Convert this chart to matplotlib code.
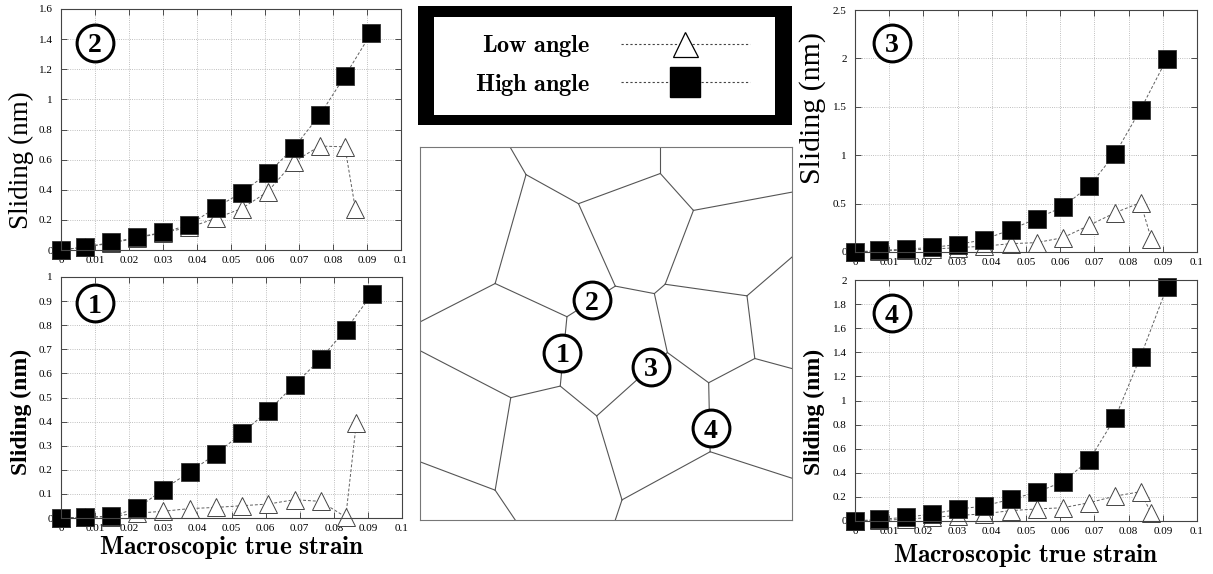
import matplotlib
matplotlib.use('Agg')
import matplotlib.pyplot as plt
from matplotlib.lines import Line2D
from matplotlib.patches import Rectangle
from matplotlib.ticker import MultipleLocator, FormatStrFormatter

plt.rcParams['font.family'] = 'Liberation Serif'
plt.rcParams['mathtext.fontset'] = 'cm'

# macroscopic true strain at each output step
strain = [0, 0.0071, 0.0148, 0.0224, 0.0300, 0.0377, 0.0455,
          0.0531, 0.0608, 0.0685, 0.0761, 0.0835, 0.0912]
strain_low = [0, 0.0071, 0.0148, 0.0224, 0.0300, 0.0377, 0.0455,
              0.0531, 0.0608, 0.0685, 0.0761, 0.0835, 0.0866]

# boundary sliding (nm), high angle / low angle, boundaries 1-4
high_1 = [0, 0.004, 0.007, 0.041, 0.118, 0.191, 0.266, 0.353, 0.445, 0.553, 0.660, 0.781, 0.929]
low_1 = [0, 0.003, 0.006, 0.020, 0.028, 0.039, 0.044, 0.051, 0.058, 0.076, 0.069, 0.004, 0.394]
high_2 = [0, 0.020, 0.050, 0.085, 0.117, 0.166, 0.281, 0.380, 0.509, 0.679, 0.896, 1.155, 1.438]
low_2 = [0, 0.020, 0.045, 0.080, 0.115, 0.150, 0.210, 0.275, 0.387, 0.586, 0.690, 0.685, 0.270]
high_3 = [0, 0.017, 0.028, 0.048, 0.076, 0.128, 0.231, 0.345, 0.466, 0.683, 1.017, 1.472, 1.997]
low_3 = [0, 0.010, 0.020, 0.030, 0.045, 0.060, 0.086, 0.097, 0.148, 0.276, 0.407, 0.510, 0.138]
high_4 = [0, 0.014, 0.030, 0.058, 0.097, 0.125, 0.180, 0.238, 0.326, 0.506, 0.858, 1.364, 1.940]
low_4 = [0, 0.005, 0.015, 0.030, 0.045, 0.060, 0.086, 0.100, 0.110, 0.152, 0.207, 0.243, 0.064]

# grain boundary network: triple junctions and edge points (0-100 box)
nodes = {
    'A': (24.2, 100), 'B': (28.5, 92.6), 'C': (42.6, 84.8), 'D': (64.6, 92.9),
    'E': (64.6, 100), 'F': (73.5, 83.0), 'G': (100, 87.9), 'H': (20.2, 63.4),
    'I': (52.5, 62.7), 'J': (65.9, 63.2), 'K': (63.0, 60.7), 'L': (87.9, 60.1),
    'M': (100, 70.5), 'N': (90.0, 43.3), 'O': (100, 40.6), 'P': (77.6, 36.8),
    'Q': (66.5, 44.9), 'R': (78.0, 18.3), 'S': (100, 11.2), 'T': (54.3, 5.4),
    'U': (52.5, 0), 'V': (47.5, 27.9), 'W': (37.7, 35.9), 'X': (24.4, 32.8),
    'Y': (39.5, 54.5), 'Z': (0, 53.1), 'AA': (0, 45.4), 'AB': (20.2, 8.0),
    'AC': (0, 15.6), 'AD': (25.6, 0),
}
boundaries = [('A', 'B'), ('B', 'C'), ('B', 'H'), ('C', 'D'), ('D', 'E'), ('D', 'F'),
              ('F', 'G'), ('C', 'I'), ('F', 'J'), ('I', 'K'), ('J', 'K'), ('J', 'L'),
              ('L', 'M'), ('L', 'N'), ('N', 'O'), ('N', 'P'), ('K', 'Q'), ('Q', 'P'),
              ('Q', 'V'), ('P', 'R'), ('R', 'S'), ('R', 'T'), ('T', 'U'), ('T', 'V'),
              ('V', 'W'), ('W', 'X'), ('W', 'Y'), ('Y', 'I'), ('Y', 'H'), ('H', 'Z'),
              ('AA', 'X'), ('X', 'AB'), ('AB', 'AC'), ('AB', 'AD')]
# points on the boundaries where sliding is tracked
tracked = {'1': (38.3, 44.9), '2': (46.2, 58.9), '3': (62.1, 41.1), '4': (78.2, 24.6)}

W, H = 1213, 574
fig = plt.figure(figsize=(W / 100, H / 100), dpi=100)


def px_axes(l, t, r, b):
    return fig.add_axes([l / W, 1 - b / H, (r - l) / W, (b - t) / H])


def circled(ax, x, y, s, transform):
    ax.plot([x], [y], 'o', ms=26.5, mfc='white', mec='black', mew=2.2,
            transform=transform, clip_on=False, zorder=5)
    ax.text(x, y, s, fontsize=20, fontweight='bold', ha='center', va='center_baseline',
            transform=transform, zorder=6)


line_kw = dict(color='#606060', lw=0.7, ls=(0, (3, 2)), clip_on=False)

panels = [
    ('1', (61, 277, 402, 518), high_1, low_1, 1.0, 0.1, 17, 'bold', (-0.117, 0.44)),
    ('2', (61, 9, 401, 250), high_2, low_2, 1.6, 0.2, 19.5, 'normal', (-0.115, 0.373)),
    ('3', (855, 10, 1197, 252), high_3, low_3, 2.5, 0.5, 21.5, 'normal', (-0.123, 0.595)),
    ('4', (855, 280, 1197, 521), high_4, low_4, 2.0, 0.2, 17, 'bold', (-0.12, 0.452)),
]

for name, box, high, low, ymax, ystep, ysize, yweight, ypos in panels:
    ax = px_axes(*box)
    ax.plot(strain_low, low, marker='^', ms=12.5, mfc='white', mec='#444444',
            mew=0.7, **line_kw)
    ax.plot(strain, high, marker='s', ms=13, mfc='black', mec='#333333',
            mew=0.6, **line_kw)
    ax.set_xlim(0, 0.1)
    ax.set_ylim(0, ymax)
    ax.xaxis.set_major_locator(MultipleLocator(0.01))
    ax.yaxis.set_major_locator(MultipleLocator(ystep))
    ax.xaxis.set_major_formatter(FormatStrFormatter('%g'))
    ax.yaxis.set_major_formatter(FormatStrFormatter('%g'))
    ax.tick_params(direction='in', length=4, width=0.6, color='#333333',
                   labelsize=8, top=True, right=True)
    ax.tick_params(axis='x', pad=4)
    ax.tick_params(axis='y', pad=6)
    ax.grid(True, ls=':', color='#aaaaaa', lw=0.6)
    for sp in ax.spines.values():
        sp.set_color('#444444')
        sp.set_linewidth(0.8)
    ax.set_ylabel('Sliding (nm)', fontsize=ysize, fontweight=yweight, va='center')
    ax.yaxis.set_label_coords(*ypos)
    if name in ('1', '4'):
        ax.set_xlabel(r'$\mathbf{Macroscopic\ true\ strain}$', fontsize=18.3, va='center')
        ax.xaxis.set_label_coords(0.5, -0.124 if name == '1' else -0.145)
    cx = 0.1 if name in ('1', '2') else 0.108
    cy = {'1': 0.892, '2': 0.859, '3': 0.864, '4': 0.863}[name]
    circled(ax, cx, cy, name, ax.transAxes)

# legend box with heavy black frame
ax_leg = px_axes(418, 6, 792, 125)
ax_leg.set_facecolor('black')
ax_leg.set_xticks([])
ax_leg.set_yticks([])
for sp in ax_leg.spines.values():
    sp.set_visible(False)
ax_leg.add_patch(Rectangle((0.043, 0.084), 0.912, 0.824, transform=ax_leg.transAxes,
                           facecolor='white', edgecolor='none'))
handles = [
    Line2D([], [], color='#444444', lw=0.8, ls=(0, (2, 2)), marker='^', ms=18,
           mfc='white', mec='black', mew=0.9),
    Line2D([], [], color='#444444', lw=0.8, ls=(0, (2, 2)), marker='s', ms=21,
           mfc='black', mec='black'),
]
ax_leg.legend(handles, [r'$\mathbf{Low\ angle}$', r'$\mathbf{High\ angle}$'],
              loc='center', bbox_to_anchor=(0.52, 0.5), frameon=False,
              markerfirst=False, fontsize=17.5, handlelength=5.3, handletextpad=1.25,
              labelspacing=0.5, numpoints=1)

# grain structure with the tracked boundaries
ax_g = px_axes(420, 147, 792, 520)
for a, b in boundaries:
    (x0, y0), (x1, y1) = nodes[a], nodes[b]
    ax_g.plot([x0, x1], [y0, y1], color='#555555', lw=0.8)
ax_g.set_xlim(0, 100)
ax_g.set_ylim(0, 100)
ax_g.set_xticks([])
ax_g.set_yticks([])
for sp in ax_g.spines.values():
    sp.set_color('#777777')
    sp.set_linewidth(0.8)
for s, (x, y) in tracked.items():
    circled(ax_g, x, y, s, ax_g.transData)

fig.savefig('out.png', dpi=100)
